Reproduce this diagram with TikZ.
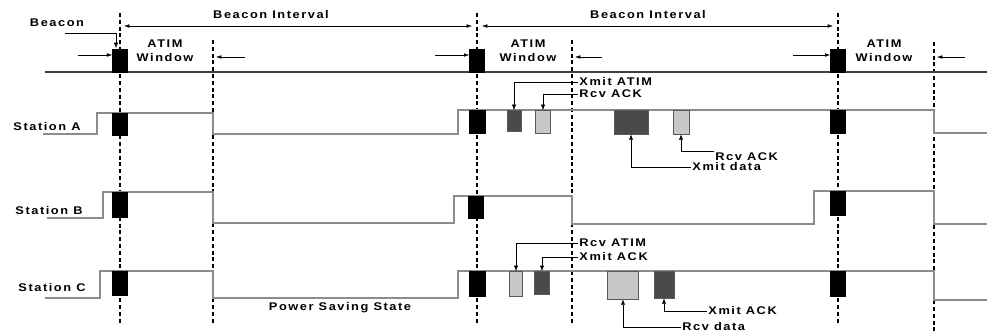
\documentclass[tikz,border=0pt]{standalone}
\usepackage{fontspec}
\setmainfont{Liberation Sans}
\newfontfamily\lblfont{Liberation Sans}[FakeStretch=1.15,LetterSpace=14]
\usepackage{xcolor}
\usepackage{tikz}
\usetikzlibrary{
    arrows.meta,
    positioning
}
\definecolor{darkbox}{HTML}{4A4A4A}
\definecolor{lightbox}{HTML}{C8C8C8}
\definecolor{wave}{HTML}{8C8C8C}

\begin{document}
\begin{tikzpicture}[
    x=0.03cm, y=-0.03cm,
    lbl/.style={
        font=\lblfont\bfseries\fontsize{9.5}{12}\selectfont,
        inner sep=1pt
    },
    beaconbox/.style={
        rectangle,
        draw=black,
        fill=black,
        inner sep=0pt,
        anchor=north,
        minimum width=0.45cm,
        minimum height=0.69cm
    },
    darkbox/.style={beaconbox, draw=gray!70!black, fill=darkbox},
    lightbox/.style={beaconbox, draw=gray!70!black, fill=lightbox},
    beaconline/.style={line width=1.8pt, dash pattern=on 3.4pt off 2.4pt},
    atimline/.style={line width=1.2pt, dash pattern=on 3.4pt off 2.4pt},
    waveline/.style={wave, line width=0.9pt},
    axisline/.style={black!75, line width=1.5pt},
    span/.style={{Latex[length=4.5pt,width=3pt]}-{Latex[length=4.5pt,width=3pt]}, thin},
    tick/.style={-{Latex[length=4.5pt,width=3pt]}, thin},
    lead/.style={-{Latex[length=4.5pt,width=3.5pt]}, thin}
]
\useasboundingbox (0,0) rectangle (987,332);

% Beacon and ATIM window boundaries
\coordinate (b1t) at (120,13);  \coordinate (b1b) at (120,325);
\coordinate (b2t) at (477,13);  \coordinate (b2b) at (477,325);
\coordinate (b3t) at (838,13);  \coordinate (b3b) at (838,325);
\coordinate (a1t) at (213,40);  \coordinate (a1b) at (213,325);
\coordinate (a2t) at (572,40);  \coordinate (a2b) at (572,325);
\coordinate (a3t) at (934,42);  \coordinate (a3b) at (934,332);
\draw[beaconline] (b1t) -- (b1b);
\draw[beaconline] (b2t) -- (b2b);
\draw[beaconline] (b3t) -- (b3b);
\draw[atimline] (a1t) -- (a1b);
\draw[atimline] (a2t) -- (a2b);
\draw[atimline] (a3t) -- (a3b);

% Time axis
\draw[axisline] (45,72) -- (987,72);

% Station levels
\draw[waveline] (43,134) -- (97,134) -- (97,113) -- (213,113) -- (213,134)
    -- (458,134) -- (458,110) -- (934,110) -- (934,133) -- (987,133);
\draw[waveline] (47,218) -- (103,218) -- (103,192) -- (213,192) -- (213,223)
    -- (454,223) -- (454,196) -- (572,196) -- (572,224) -- (814,224)
    -- (814,191) -- (934,191) -- (934,224) -- (987,224);
\draw[waveline] (45,298) -- (100,298) -- (100,271) -- (213,271) -- (213,298)
    -- (458,298) -- (458,271) -- (934,271) -- (934,300) -- (987,300);

% Beacons
\node[beaconbox] (bT1) at (120,49) {};
\node[beaconbox] (bT2) at (477,49) {};
\node[beaconbox] (bT3) at (838,49) {};
\node[beaconbox, minimum height=0.66cm] (bA1) at (120,113) {};
\node[beaconbox, minimum width=0.48cm] (bA2) at (477,110) {};
\node[beaconbox] (bA3) at (838,110) {};
\node[beaconbox, minimum height=0.75cm] (bB1) at (120,192) {};
\node[beaconbox, minimum height=0.66cm] (bB2) at (476,196) {};
\node[beaconbox, minimum height=0.72cm] (bB3) at (838,191) {};
\node[beaconbox, minimum height=0.72cm] (bC1) at (120,271) {};
\node[beaconbox, minimum width=0.48cm, minimum height=0.75cm] (bC2) at (477,271) {};
\node[beaconbox, minimum height=0.75cm] (bC3) at (838,271) {};

% Station A frames
\node[darkbox, minimum width=0.42cm, minimum height=0.63cm] (xA1) at (514,110) {};
\node[lightbox, minimum width=0.45cm] (rA1) at (543,110) {};
\node[darkbox, minimum width=1.02cm, minimum height=0.72cm] (xA2) at (631,110) {};
\node[lightbox, minimum width=0.48cm, minimum height=0.72cm] (rA2) at (681,110) {};

% Station C frames
\node[lightbox, minimum width=0.39cm, minimum height=0.75cm] (rC1) at (516,271) {};
\node[darkbox, minimum width=0.45cm] (xC1) at (542,271) {};
\node[lightbox, minimum width=0.93cm, minimum height=0.84cm] (rC2) at (623,271) {};
\node[darkbox, minimum width=0.6cm, minimum height=0.81cm] (xC2) at (664,271) {};

% Labels
\node[lbl] (beacon) at (57,23) {Beacon};
\node[lbl] (int1) at (271,15) {Beacon Interval};
\node[lbl] (int2) at (648,15) {Beacon Interval};
\node[lbl, align=center] (win1) at (165,51) {ATIM\\Window};
\node[lbl, align=center] (win2) at (528,51) {ATIM\\Window};
\node[lbl, align=center] (win3) at (884,51) {ATIM\\Window};
\node[lbl] (staA) at (47,127) {Station A};
\node[lbl] (staB) at (49,211) {Station B};
\node[lbl] (staC) at (52,288) {Station C};
\node[lbl] (pss) at (340,308) {Power Saving State};

\node[lbl, anchor=west] (lxA1) at (578,82) {Xmit ATIM};
\node[lbl, anchor=west] (lrA1) at (578,94) {Rcv ACK};
\node[lbl, anchor=west] (lrA2) at (714,157) {Rcv ACK};
\node[lbl, anchor=west] (lxA2) at (691,167) {Xmit data};
\node[lbl, anchor=west] (lrC1) at (578,243) {Rcv ATIM};
\node[lbl, anchor=west] (lxC1) at (578,257) {Xmit ACK};
\node[lbl, anchor=west] (lxC2) at (707,311) {Xmit ACK};
\node[lbl, anchor=west] (lrC2) at (681,327) {Rcv data};

% Beacon pointer
\coordinate (bcn1) at (65,33);
\coordinate (bcn2) at (116,48);
\draw[lead] (bcn1) -| (bcn2);

% Beacon Interval spans
\coordinate (bi1l) at (124,26);
\coordinate (bi1r) at (472,26);
\coordinate (bi2l) at (482,26);
\coordinate (bi2r) at (833,26);
\draw[span] (bi1l) -- (bi1r);
\draw[span] (bi2l) -- (bi2r);

% ATIM Window marks
\coordinate (w1a) at (78,55);   \coordinate (w1b) at (245,57);  \coordinate (w1c) at (216,57);
\coordinate (w2a) at (435,55);  \coordinate (w2b) at (602,57);  \coordinate (w2c) at (575,57);
\coordinate (w3a) at (793,55);  \coordinate (w3b) at (965,57);  \coordinate (w3c) at (937,57);
\draw[tick] (w1a) -- (w1a -| bT1.west);
\draw[tick] (w1b) -- (w1c);
\draw[tick] (w2a) -- (w2a -| bT2.west);
\draw[tick] (w2b) -- (w2c);
\draw[tick] (w3a) -- (w3a -| bT3.west);
\draw[tick] (w3b) -- (w3c);

% Frame pointers
\draw[lead] (lxA1.west) -| (xA1.north);
\draw[lead] (lrA1.west) -| (rA1.north);
\draw[lead] (lxA2.west) -| (xA2.south);
\draw[lead] (lrA2.north west) -| (rA2.south);
\draw[lead] (lrC1.west) -| (rC1.north);
\draw[lead] (lxC1.west) -| (xC1.north);
\draw[lead] (lrC2.west) -| (rC2.south);
\draw[lead] (lxC2.west) -| (xC2.south);

\end{tikzpicture}
\end{document}
